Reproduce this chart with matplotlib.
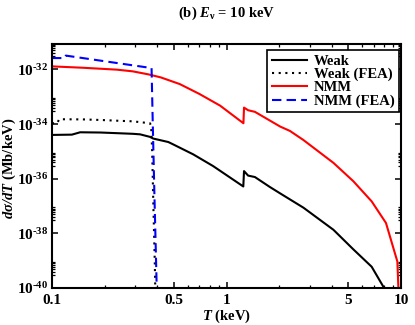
import math
import matplotlib
matplotlib.use("Agg")
from matplotlib import pyplot as plt
from matplotlib.ticker import FixedLocator, LogLocator, FuncFormatter, NullFormatter

# recoil energy T (keV) and dsigma/dT (Mb/keV)
weak_T = [0.1, 0.13, 0.145, 0.19, 0.29, 0.32, 0.364, 0.38, 0.464, 0.495, 0.644, 0.838,
          1.248, 1.26, 1.33, 1.455, 1.77, 2.03, 2.76, 4.1, 5.33, 6.79, 8.0, 8.5]
weak_y = [4.0e-35, 4.1e-35, 5.0e-35, 4.9e-35, 4.4e-35, 4.2e-35, 3.4e-35, 2.95e-35, 2.2e-35,
          1.8e-35, 7.8e-36, 2.9e-36, 5.2e-37, 1.9e-36, 1.3e-36, 1.15e-36, 5.0e-37, 2.9e-37,
          8.7e-38, 1.35e-38, 2.6e-39, 6.0e-40, 1.0e-40, 3.0e-41]

weak_fea_T = [0.1, 0.107, 0.11, 0.15, 0.19, 0.24, 0.29, 0.364, 0.370,
              0.375, 0.381, 0.388, 0.392]
weak_fea_y = [1.07e-34, 1.07e-34, 1.5e-34, 1.48e-34, 1.41e-34, 1.32e-34, 1.26e-34, 1.07e-34,
              8.9e-35, 1.0e-35, 1.0e-37, 1.0e-39, 3.0e-41]

nmm_T = [0.1, 0.15, 0.235, 0.29, 0.36, 0.42, 0.54, 0.70, 0.92, 1.25, 1.26, 1.33, 1.455,
         2.03, 2.31, 2.76, 4.1, 5.33, 6.79, 8.2, 9.53, 9.8]
nmm_y = [1.29e-32, 1.15e-32, 9.8e-33, 8.5e-33, 6.5e-33, 5.1e-33, 2.9e-33, 1.26e-33,
         4.7e-34, 1.07e-34, 4.0e-34, 3.2e-34, 2.8e-34, 8.1e-35, 5.6e-35, 2.6e-35,
         3.8e-36, 8.1e-37, 1.48e-37, 2.4e-38, 9.3e-40, 1.0e-41]

nmm_fea_T = [0.1, 0.118, 0.12, 0.372, 0.378, 0.386, 0.394, 0.40]
nmm_fea_y = [2.6e-32, 2.6e-32, 3.2e-32, 1.12e-32, 1.0e-34, 3.0e-37, 1.6e-39, 3.0e-41]

x_major = [0.1, 0.5, 1, 5, 10]
x_labels = ["0.1", "0.5", "1", "5", "10"]
y_major = [1e-40, 1e-38, 1e-36, 1e-34, 1e-32]

plt.rcParams["font.family"] = ["Liberation Serif", "DejaVu Serif"]
plt.rcParams["font.weight"] = "bold"
plt.rcParams["mathtext.fontset"] = "custom"
plt.rcParams["mathtext.rm"] = "Liberation Serif:bold"
plt.rcParams["mathtext.it"] = "Liberation Serif:italic:bold"
plt.rcParams["mathtext.bf"] = "Liberation Serif:bold"
plt.rcParams["mathtext.bfit"] = "Liberation Serif:italic:bold"


def ylab(v, pos):
    # short hyphen in the exponent, like the original
    return "$\\mathbf{10^{\u2010%d}}$" % abs(round(math.log10(v)))


def main() -> None:
    fig = plt.figure(figsize=(4.15, 3.25), dpi=100)
    ax = fig.add_axes([0.1253, 0.1138, 0.8410, 0.7508])

    lw = 1.5
    ax.plot(weak_T, weak_y, color="black", lw=lw, label="Weak")
    ax.plot(weak_fea_T, weak_fea_y, color="black", lw=lw, linestyle=(0, (1, 2.2)),
            label="Weak (FEA)")
    ax.plot(nmm_T, nmm_y, color="red", lw=lw, label="NMM")
    ax.plot(nmm_fea_T, nmm_fea_y, color="blue", lw=lw, linestyle=(0, (4.5, 2.5)),
            label="NMM (FEA)")

    ax.set_xscale("log")
    ax.set_yscale("log")
    ax.set_xlim(0.1, 10)
    ax.set_ylim(1e-40, 8.5e-32)

    ax.xaxis.set_major_locator(FixedLocator(x_major))
    ax.xaxis.set_major_formatter(FuncFormatter(lambda v, p: x_labels[x_major.index(v)]
                                               if v in x_major else ""))
    ax.xaxis.set_minor_locator(LogLocator(base=10, subs=range(2, 10)))
    ax.xaxis.set_minor_formatter(NullFormatter())

    y_minor = [m * 10.0 ** (e - 1) for e in (-39, -37, -35, -33, -31) for m in range(3, 10)]
    ax.yaxis.set_major_locator(FixedLocator(y_major))
    ax.yaxis.set_major_formatter(FuncFormatter(ylab))
    ax.yaxis.set_minor_locator(FixedLocator(y_minor))
    ax.yaxis.set_minor_formatter(NullFormatter())

    ax.tick_params(which="both", direction="in", top=True, right=True)
    ax.tick_params(axis="x", labelsize=11, pad=4.0)
    ax.tick_params(axis="y", labelsize=11, pad=2.5)
    ax.tick_params(which="major", length=4.5, width=1.1)
    ax.tick_params(which="minor", length=2.5, width=0.9)
    for sp in ax.spines.values():
        sp.set_linewidth(1.5)

    leg = ax.legend(loc="upper right", bbox_to_anchor=(0.994, 0.975), borderaxespad=0,
                    fancybox=False, edgecolor="black", framealpha=1, fontsize=10.5,
                    handlelength=2.4, handletextpad=0.5, labelspacing=0.0,
                    borderpad=0.3)
    leg.get_frame().set_linewidth(1.2)

    fig.text(226.5 / 415, 1 - 13 / 325, r"(b) $\mathbfit{E}_{\mathbf{\nu}}$ = 10 keV",
             ha="center", va="center", fontsize=10.5, fontweight="bold")
    fig.text(226.5 / 415, 1 - 316.5 / 325, r"$\mathbfit{T}$ (keV)", ha="center", va="center",
             fontsize=10.5, fontweight="bold")
    fig.text(9 / 415, 1 - 168 / 325, r"$\mathbfit{d\sigma/dT}$ (Mb/keV)", ha="center",
             va="center", rotation=90, fontsize=10.5, fontweight="bold")

    fig.savefig("out.png", dpi=100)


if __name__ == "__main__":
    main()
